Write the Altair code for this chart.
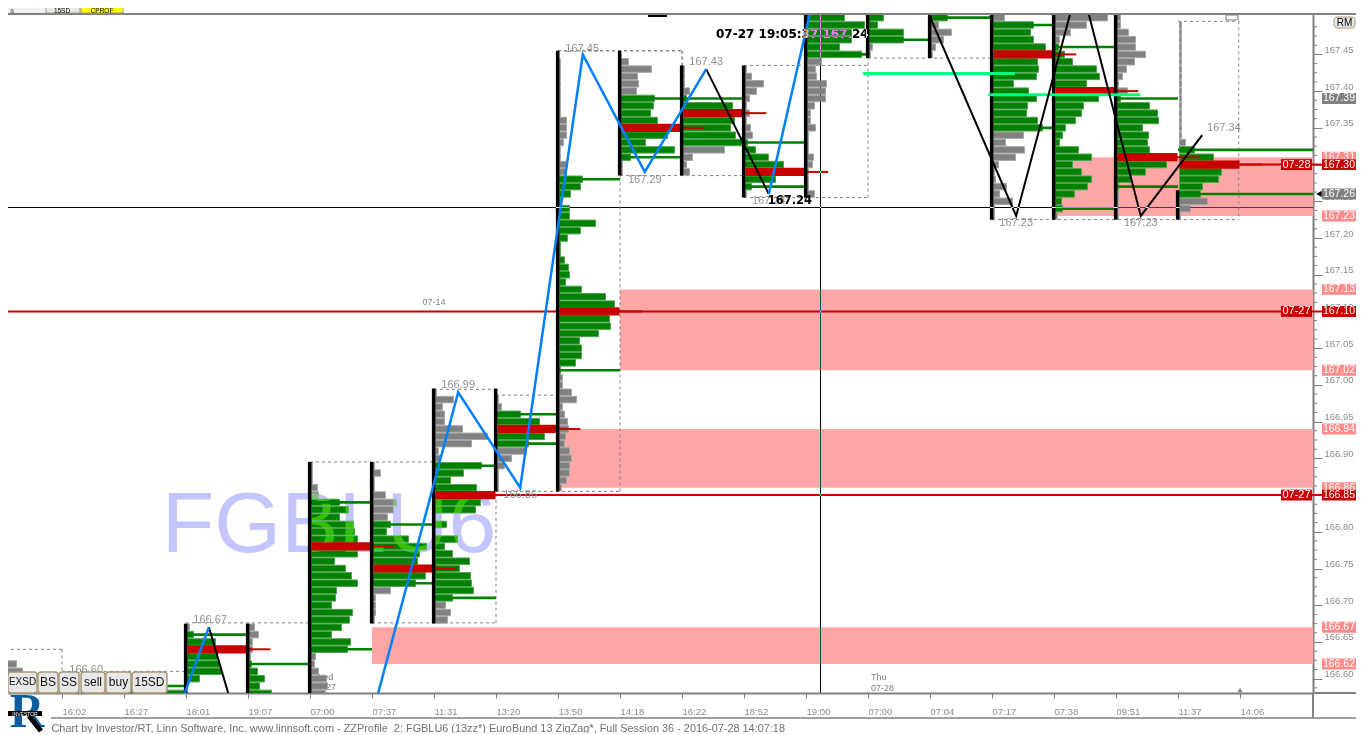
import altair as alt
import pandas as pd

# ---- price axis and time axis
tick_prices = [166.60, 166.65, 166.70, 166.75, 166.80, 166.85, 166.90, 166.95, 167.00, 167.05,
               167.10, 167.15, 167.20, 167.25, 167.30, 167.35, 167.40, 167.45]
time_labels = ["16:02", "16:27", "18:01", "19:07", "07:00", "07:37", "11:31", "13:20", "13:50", "14:18",
               "16:22", "18:52", "19:00", "07:00", "07:04", "07:17", "07:38", "09:51", "11:37", "14:06"]

# ---- market profiles: slot, highest row, row volumes top-down, green (value) range, POC, extended levels
prof_slot = [0, 2, 3, 4, 5, 6, 7, 8, 9, 10, 11, 12, 13, 14, 15, 16, 17, 18, 19]
prof_high = [166.62, 166.59, 166.67, 166.67, 166.89, 166.89, 166.99, 166.98, 167.44, 167.44, 167.43, 167.43,
             167.50, 167.50, 167.50, 167.50, 167.50, 167.50, 167.49]
prof_vols = [
    [15, 21, 20, 20],
    [20, 60],
    [2, 6, 28, 62, 30, 32, 34, 12],
    [5, 9, 3, 3, 1, 2, 8, 15, 10, 22],
    [1, 1, 1, 6, 7, 28, 37, 28, 42, 43, 46, 62, 46, 23, 34, 40, 46, 25, 24, 20, 41, 38, 30, 20, 39, 36, 4, 3, 7, 15, 16, 14],
    [1, 7, 1, 1, 12, 23, 20, 14, 17, 13, 35, 53, 46, 44, 62, 52, 42, 17, 2, 2, 2, 1],
    [1, 18, 7, 9, 9, 27, 52, 36, 3, 5, 46, 28, 15, 41, 60, 45, 40, 0, 11, 0, 22, 9, 17, 34, 24, 35, 36, 38, 17, 10, 15, 12],
    [1, 4, 23, 42, 60, 47, 31, 29, 14, 7, 1, 1, 1],
    [1, 1, 1, 1, 1, 1, 1, 1, 7, 7, 7, 4, 1, 1, 7, 7, 23, 21, 11, 1, 10, 10, 36, 21, 8, 1, 1, 5, 9, 10, 6, 22, 46, 55, 60,
     50, 51, 39, 20, 22, 22, 16, 1, 3, 3, 12, 17, 3, 5, 8, 9, 6, 5, 10, 12, 10, 10, 7, 2],
    [7, 30, 16, 17, 15, 33, 32, 29, 36, 60, 46, 24, 53, 9, 1, 1],
    [1, 1, 1, 6, 3, 49, 60, 51, 47, 52, 58, 41, 9, 3, 6],
    [1, 6, 18, 11, 4, 1, 4, 1, 5, 7, 2, 10, 23, 38, 60, 30, 6, 1],
    [37, 57, 44, 44, 32, 54, 14, 8, 9, 19, 18, 18, 7, 3, 3, 8, 1, 1, 1, 6, 5, 1, 1, 1, 7],
    [14, 8, 34, 34, 3, 1],
    [16, 7, 20, 12, 4, 1],
    [11, 40, 37, 40, 52, 60, 44, 45, 43, 20, 35, 43, 34, 33, 44, 49, 30, 12, 31, 22, 5, 1, 2, 13, 6, 19, 1, 1],
    [52, 31, 15, 4, 3, 9, 17, 41, 44, 31, 60, 43, 28, 26, 20, 10, 7, 4, 23, 36, 17, 26, 36, 32, 19, 6, 7, 2],
    [3, 3, 11, 18, 18, 28, 17, 9, 5, 1, 10, 3, 32, 40, 41, 25, 31, 30, 32, 60, 49, 28, 13, 1, 1, 1, 1, 1],
    [2, 2, 2, 2, 2, 2, 2, 2, 2, 2, 2, 2, 2, 2, 2, 2, 6, 15, 34, 60, 42, 39, 23, 21, 28, 11, 1],
]
prof_green_hi = [0, 166.59, 166.66, 166.62, 166.84, 166.81, 166.89, 166.96, 167.28, 167.39, 167.39, 167.33,
                 167.50, 167.50, 167.50, 167.49, 167.46, 167.39, 167.32]
prof_green_lo = [0, 166.58, 166.60, 166.58, 166.64, 166.73, 166.71, 166.92, 167.02, 167.31, 167.33, 167.27,
                 167.45, 167.47, 167.50, 167.35, 167.24, 167.27, 167.26]
prof_poc = [0, 0, 166.64, 0, 166.78, 166.75, 166.85, 166.94, 167.10, 167.35, 167.37, 167.29, 0, 0, 0, 167.45, 167.40, 167.31, 167.30]
prof_levels = [[], [166.59], [166.66], [166.62], [166.84, 166.64], [166.81, 166.73], [166.89, 166.71], [166.96, 166.92],
               [167.28, 167.02], [167.39, 167.31], [167.39, 167.33], [167.33, 167.27], [167.45], [167.47], [167.50],
               [167.49, 167.35], [167.46, 167.24], [167.39, 167.27], [167.32, 167.26]]
stem_slot = [3, 4, 5, 6, 7, 8, 9, 10, 11, 12, 13, 14, 15, 16, 17, 18, 19]
stem_top = [166.675, 166.675, 166.895, 166.895, 166.995, 166.995, 167.455, 167.455, 167.435, 167.435, 167.505,
            167.505, 167.505, 167.505, 167.505, 167.505, 167.265]
stem_bottom = [166.5805, 166.5805, 166.5805, 166.675, 166.675, 166.855, 166.855, 167.285, 167.285, 167.255, 167.255,
               167.445, 167.445, 167.225, 167.225, 167.225, 167.225]

# ---- zones, lines, zigzags
zone_left = [6.0, 9.0, 10.0, 17.0]
zone_low = [166.62, 166.86, 167.02, 167.23]
zone_high = [166.67, 166.94, 167.13, 167.31]
blue_slot_a = [2.98, 3.37]
blue_price_a = [166.5805, 166.67]
blue_slot_b = [6.10, 7.39, 8.39, 9.40, 10.40, 11.39]
blue_price_b = [166.5805, 166.99, 166.86, 167.45, 167.29, 167.43]
blue_slot_c = [12.40, 13.06]
blue_price_c = [167.26, 167.505]
black_slot_a = [3.37, 3.68]
black_price_a = [166.67, 166.5805]
black_slot_b = [11.39, 12.40]
black_price_b = [167.43, 167.26]
black_slot_c = [14.98, 16.39, 17.26]
black_price_c = [167.505, 167.23, 167.505]
black_slot_d = [17.56, 18.40, 19.39]
black_price_d = [167.505, 167.23, 167.34]
dash_x1 = [1, 1, 3, 5, 6, 8, 7, 8, 9, 8, 10, 9, 11, 12, 10, 12, 14, 14, 16, 19, 19.98, 10, 11, 1]
dash_y1 = [166.64, 166.64, 166.676, 166.895, 166.676, 166.676, 166.994, 166.986, 167.455, 166.855, 166.855, 167.455,
           167.435, 167.255, 167.285, 167.435, 167.445, 167.255, 167.225, 167.495, 167.495, 167.285, 167.455, 166.61]
dash_x2 = [1, 0.13, 5, 7, 8, 8, 8, 9, 11, 10, 10, 11, 11, 14, 12, 14, 16, 14, 19.98, 19.98, 19.98, 10, 11, 3]
dash_y2 = [166.61, 166.64, 166.676, 166.895, 166.676, 166.855, 166.994, 166.986, 167.455, 166.855, 167.285, 167.455,
           167.455, 167.255, 167.285, 167.435, 167.445, 167.445, 167.225, 167.495, 167.225, 167.285, 167.285, 166.61]
label_slot = [1.39, 3.39, 7.39, 8.39, 9.39, 10.40, 11.39, 12.40, 16.39, 18.40, 19.74]
label_price = [166.612, 166.68, 167.0, 166.85, 167.458, 167.279, 167.44, 167.25, 167.22, 167.22, 167.35]
label_text = ["166.60", "166.67", "166.99", "166.86", "167.45", "167.29", "167.43", "167.24", "167.23", "167.23", "167.34"]
tag_price = [167.31, 167.23, 167.13, 167.02, 166.94, 166.86, 166.67, 166.62, 167.39, 167.26, 167.30, 167.10, 166.85]
tag_kind = ["p", "p", "p", "p", "p", "p", "p", "p", "g", "g", "r", "r", "r"]
date_price = [167.30, 167.10, 166.85]
date_text = ["07-28", "07-27", "07-27"]

# ---- scales and the one shared pair of axes
XS = alt.Scale(domain=[8 / 62, 1313 / 62], nice=False, zero=False)
YS = alt.Scale(domain=[166.5805, 167.505], nice=False, zero=False)
FONT = "Liberation Sans"
GRAY = "#808080"
RED = "#c80000"
GREEN = "#008000"
XAX = alt.Axis(
    values=list(range(1, 21)), labelExpr="%s[datum.value-1]" % str(time_labels),
    grid=False, tickSize=5, tickColor=GRAY, domainColor=GRAY, domainWidth=2, labelColor="#8c8c8c",
    labelFont=FONT, labelFontSize=9.5, labelAlign="left", labelBaseline="middle", labelPadding=13,
    labelOverlap=False, labelFlush=False,
    title="Chart by Investor/RT, Linn Software, Inc. www.linnsoft.com - ZZProfile_2: FGBLU6 (13zz*) EuroBund 13 ZigZag*, Full Session 36 - 2016-07-28 14:07:18",
    titleFont=FONT, titleFontSize=10.9, titleFontWeight="normal", titleColor="#707070", titleAnchor="start",
    titleAlign="left", titleBaseline="middle", titleX=43, titleY=35)
YAX = alt.Axis(
    orient="right", values=tick_prices, format=".2f", grid=False, tickSize=9, tickColor=GRAY,
    domainColor=GRAY, domainWidth=2, labelColor="#8c8c8c", labelFont=FONT, labelFontSize=9.5,
    labelBaseline="bottom", labelPadding=2, labelOverlap=False, labelFlush=False, title="")


def X(f="x"):
    return alt.X(f + ":Q", scale=XS, axis=XAX)


def Y(f="y"):
    return alt.Y(f + ":Q", scale=YS, axis=YAX)


one = pd.DataFrame({"k": [0]})
PX = lambda v: v - 8
PY = lambda v: v - 14

# ---- build tables from the arrays
bars = {"gray": [], "green": [], "red": []}
stubs, glines = [], []
for s, hi, vols, gh, gl, poc, levels in zip(prof_slot, prof_high, prof_vols, prof_green_hi, prof_green_lo, prof_poc, prof_levels):
    for i, v in enumerate(vols):
        if v == 0:
            continue
        p = round(hi - i * 0.01, 2)
        kind = "red" if p == poc else ("green" if gl - 1e-6 <= p <= gh + 1e-6 else "gray")
        h = 0.0056 if kind == "red" else 0.0044
        bars[kind].append({"x": s + 1.5 / 62, "x2": s + (1.5 + v) / 62, "y": p - h, "y2": p + h})
    if poc:
        stubs.append({"x": s + 0.97, "x2": s + 1.36, "y": poc})
    for lv in levels:
        end = 21.18 if s == 19 else s + 1
        glines.append({"x": s, "x2": end, "y": lv})

layers = []


def add(c):
    layers.append(c)


# minor price ticks
minor = [round(166.5875 + i * 0.0125, 4) for i in range(73)]
minor = [m for m in minor if round(m / 0.05, 3) % 1 != 0]
add(alt.Chart(pd.DataFrame({"y": minor})).mark_rule(color=GRAY, strokeWidth=1).encode(
    y=Y(), x=alt.value(1305), x2=alt.value(1309)))

# pink zones
add(alt.Chart(pd.DataFrame({"x": zone_left, "x2": [21.18] * 4, "y": zone_low, "y2": zone_high}))
    .mark_rect(color="#ffa6a6").encode(x=X(), x2="x2:Q", y=Y(), y2="y2:Q"))

# date text and watermark behind the profiles
add(alt.Chart(one).mark_text(text="FGBLU6", font=FONT, fontSize=86, color="#c4c4ff", align="center", baseline="middle")
    .encode(x=alt.value(PX(329)), y=alt.value(PY(526))))
for t, x, y in [("Thu", 871, 677), ("07-28", 871, 688), ("Wed", 315, 677), ("07-27", 313, 687)]:
    add(alt.Chart(one).mark_text(text=t, font=FONT, fontSize=9, color=GRAY, align="left", baseline="middle")
        .encode(x=alt.value(PX(x)), y=alt.value(PY(y))))

# dashed session boxes
add(alt.Chart(pd.DataFrame({"x": dash_x1, "x2": dash_x2, "y": dash_y1, "y2": dash_y2}))
    .mark_rule(color=GRAY, strokeDash=[3, 3], strokeWidth=1, clip=True).encode(x=X(), x2="x2:Q", y=Y(), y2="y2:Q"))

# long red naked POC lines
add(alt.Chart(pd.DataFrame({"x": [0.13, 7.95, 19.9], "x2": [21.32, 21.32, 21.32], "y": [167.10, 166.85, 167.30]}))
    .mark_rule(color=RED, strokeWidth=2).encode(x=X(), x2="x2:Q", y=Y()))

# profile rows
add(alt.Chart(pd.DataFrame(bars["gray"])).mark_rect(color=GRAY, stroke="#a6a6a6", strokeWidth=1, clip=True)
    .encode(x=X(), x2="x2:Q", y=Y(), y2="y2:Q"))
add(alt.Chart(pd.DataFrame(bars["green"])).mark_rect(color=GREEN, stroke="#4fa34f", strokeWidth=1, clip=True)
    .encode(x=X(), x2="x2:Q", y=Y(), y2="y2:Q"))
# watermark colour shift over the bars
add(alt.Chart(one).mark_text(text="FGBLU6", font=FONT, fontSize=86, color="#38be00", blend="lighten", align="center", baseline="middle")
    .encode(x=alt.value(PX(329)), y=alt.value(PY(526))))
add(alt.Chart(pd.DataFrame(bars["red"])).mark_rect(color=RED, clip=True).encode(x=X(), x2="x2:Q", y=Y(), y2="y2:Q"))
add(alt.Chart(pd.DataFrame(stubs)).mark_rule(color=RED, strokeWidth=2).encode(x=X(), x2="x2:Q", y=Y()))
add(alt.Chart(pd.DataFrame(glines)).mark_rule(color=GREEN, strokeWidth=2.6, clip=True).encode(x=X(), x2="x2:Q", y=Y()))
add(alt.Chart(pd.DataFrame({"x": [s - 0.005 for s in stem_slot], "y": stem_bottom, "y2": stem_top}))
    .mark_rule(color="#000000", strokeWidth=3.6).encode(x=X(), y=Y(), y2="y2:Q"))

# bright green levels
add(alt.Chart(pd.DataFrame({"x": [13.92, 15.94], "x2": [16.37, 18.39], "y": [167.424, 167.395]}))
    .mark_rule(color="#00ff80", strokeWidth=3).encode(x=X(), x2="x2:Q", y=Y()))

# zigzags
for xs, ys, col, w in [(black_slot_a, black_price_a, "#000000", 2), (black_slot_b, black_price_b, "#000000", 2),
                       (black_slot_c, black_price_c, "#000000", 2), (black_slot_d, black_price_d, "#000000", 2),
                       (blue_slot_a, blue_price_a, "#0080ff", 2.5), (blue_slot_b, blue_price_b, "#0080ff", 2.5),
                       (blue_slot_c, blue_price_c, "#0080ff", 2.5)]:
    add(alt.Chart(pd.DataFrame({"x": xs, "y": ys})).mark_line(color=col, strokeWidth=w, clip=True)
        .encode(x=X(), y=Y()))

# peak labels
add(alt.Chart(pd.DataFrame({"x": label_slot, "y": label_price, "t": label_text}))
    .mark_text(font=FONT, fontSize=11, color="#909090", align="center", baseline="middle")
    .encode(x=X(), y=Y(), text="t:N"))
add(alt.Chart(pd.DataFrame({"x": [7.0], "y": [167.113], "t": ["07-14"]}))
    .mark_text(font=FONT, fontSize=9, color=GRAY, align="center", baseline="middle").encode(x=X(), y=Y(), text="t:N"))

# crosshair and its read-outs: inverted against whatever lies below
add(alt.Chart(pd.DataFrame({"y": [167.24154]})).mark_rule(color="#ffffff", strokeWidth=1, blend="difference")
    .encode(y=Y(), x=alt.value(0), x2=alt.value(1305)))
add(alt.Chart(pd.DataFrame({"x": [13.2339]})).mark_rule(color="#ffffff", strokeWidth=1, blend="difference").encode(x=X()))
add(alt.Chart(pd.DataFrame({"x": [12.74], "y": [167.25], "t": ["167.24"]}))
    .mark_text(font="DejaVu Sans", fontSize=11.5, fontWeight="bold", color="#000000", align="center", baseline="middle")
    .encode(x=X(), y=Y(), text="t:N"))
add(alt.Chart(pd.DataFrame({"x": [12.78], "y": [167.478], "t": ["07-27 19:05:37  167.24"]}))
    .mark_text(font="DejaVu Sans", fontSize=12, fontWeight="bold", color="#ffffff", blend="difference", align="center", baseline="middle")
    .encode(x=X(), y=Y(), text="t:N"))

# chrome lines
for x, x2, y, y2, w in [(0, 1364, 14, 14, 2), (1313, 1364, 693, 693, 2), (1313, 1313, 693, 718, 2), (51, 1364, 718, 718, 1.5)]:
    add(alt.Chart(one).mark_rule(color=GRAY, strokeWidth=w).encode(
        x=alt.value(PX(x)), x2=alt.value(PX(x2)), y=alt.value(PY(y)), y2=alt.value(PY(y2))))

# price tags
tag_fill = {"p": "#ff8a8a", "g": GRAY, "r": RED}
for p, k in zip(tag_price, tag_kind):
    d = pd.DataFrame({"y": [p - 0.0074], "y2": [p + 0.0074], "m": [p], "t": ["%.2f" % p]})
    add(alt.Chart(d).mark_rect(color=tag_fill[k]).encode(
        x=alt.value(PX(1322)), x2=alt.value(PX(1364)), y=Y(), y2="y2:Q"))
    add(alt.Chart(d).mark_text(font=FONT, fontSize=10.5, color="#ffffff", align="center", baseline="middle").encode(
        x=alt.value(PX(1339)), y=Y("m"), text="t:N"))
for p, t in zip(date_price, date_text):
    d = pd.DataFrame({"y": [p - 0.0074], "y2": [p + 0.0074], "m": [p], "t": [t]})
    add(alt.Chart(d).mark_rect(color=RED).encode(
        x=alt.value(PX(1281)), x2=alt.value(PX(1312)), y=Y(), y2="y2:Q"))
    add(alt.Chart(d).mark_text(font=FONT, fontSize=11, color="#ffffff", align="center", baseline="middle").encode(
        x=alt.value(PX(1296.5)), y=Y("m"), text="t:N"))

# cursor marks
add(alt.Chart(pd.DataFrame({"y": [167.26]})).mark_point(shape="triangle-left", size=40, filled=True, color="#000000", opacity=1)
    .encode(x=alt.value(PX(1319)), y=Y()))
add(alt.Chart(one).mark_point(shape="triangle-up", size=25, filled=True, color=GRAY, opacity=1)
    .encode(x=alt.value(PX(1240)), y=alt.value(PY(690))))
add(alt.Chart(one).mark_rule(color="#000000", strokeWidth=2).encode(
    x=alt.value(PX(648)), x2=alt.value(PX(667)), y=alt.value(PY(16))))
add(alt.Chart(one).mark_rect(color="#ffffff", stroke=GRAY, strokeWidth=1).encode(
    x=alt.value(PX(1226)), x2=alt.value(PX(1238)), y=alt.value(PY(15)), y2=alt.value(PY(20))))

# toolbars
button_text = ["EXSD", "BS", "SS", "sell", "buy", "15SD"]
button_left = [8, 38, 59, 81, 106, 132]
button_right = [37, 58, 79, 105, 131, 167]
button_size = [10, 12, 12, 12, 12, 12]
top_rects = [(0, 46, 8, 13, "#f0f0f0", None), (46, 80, 0, 13, "#e8e8e8", "#a89878"), (81, 123, 0, 13, "#ffff00", "#a89878")]
for x, x2, y, y2, f, st in top_rects:
    kw = {"stroke": st, "strokeWidth": 1} if st else {}
    add(alt.Chart(one).mark_rect(color=f, **kw).encode(
        x=alt.value(PX(x)), x2=alt.value(PX(x2)), y=alt.value(PY(y)), y2=alt.value(PY(y2))))
for t, x, col in [("a", 12, "#505050"), ("15SD", 62, "#000000"), ("CPROF", 102, "#000000")]:
    add(alt.Chart(one).mark_text(text=t, font=FONT, fontSize=6.5, color=col, align="center", baseline="middle")
        .encode(x=alt.value(PX(x)), y=alt.value(PY(10.8))))
for t, l, r, fs in zip(button_text, button_left, button_right, button_size):
    add(alt.Chart(one).mark_rect(color="#e8e8e8", stroke="#a89878", strokeWidth=1.5, cornerRadius=3).encode(
        x=alt.value(PX(l)), x2=alt.value(PX(r)), y=alt.value(PY(672)), y2=alt.value(PY(693))))
    add(alt.Chart(one).mark_text(text=t, font=FONT, fontSize=fs, color="#101010", align="center", baseline="middle")
        .encode(x=alt.value(PX((l + r) / 2)), y=alt.value(PY(682))))
add(alt.Chart(one).mark_rect(color="#e8e8e8", stroke="#a89878", strokeWidth=1, cornerRadius=3).encode(
    x=alt.value(PX(1334)), x2=alt.value(PX(1355)), y=alt.value(PY(17)), y2=alt.value(PY(28))))
add(alt.Chart(one).mark_text(text="RM", font=FONT, fontSize=10, color="#000000", align="center", baseline="middle")
    .encode(x=alt.value(PX(1344.5)), y=alt.value(PY(22.5))))

# logo
add(alt.Chart(one).mark_text(text="R", font="Liberation Serif", fontWeight="bold", fontSize=48, color="#0a5f9e", align="center", baseline="middle")
    .encode(x=alt.value(PX(27)), y=alt.value(PY(713))))
add(alt.Chart(one).mark_rule(color="#000000", strokeWidth=5).encode(
    x=alt.value(PX(29)), x2=alt.value(PX(41)), y=alt.value(PY(716)), y2=alt.value(PY(731))))
add(alt.Chart(one).mark_rect(color="#000000").encode(
    x=alt.value(PX(8)), x2=alt.value(PX(42)), y=alt.value(PY(711)), y2=alt.value(PY(716))))
add(alt.Chart(one).mark_text(text="INVESTOR", font=FONT, fontSize=5, color="#ffffff", align="center", baseline="middle")
    .encode(x=alt.value(PX(25)), y=alt.value(PY(713.5))))

chart = alt.layer(*layers).properties(
    width=1305, height=679,
    autosize=alt.AutoSizeParams(type="none"),
    padding={"left": 0, "top": 6, "right": 43, "bottom": 40},
    background="#ffffff",
).configure_view(stroke=None)

chart.save("out.html", embed_options={"renderer": "svg", "actions": False})
